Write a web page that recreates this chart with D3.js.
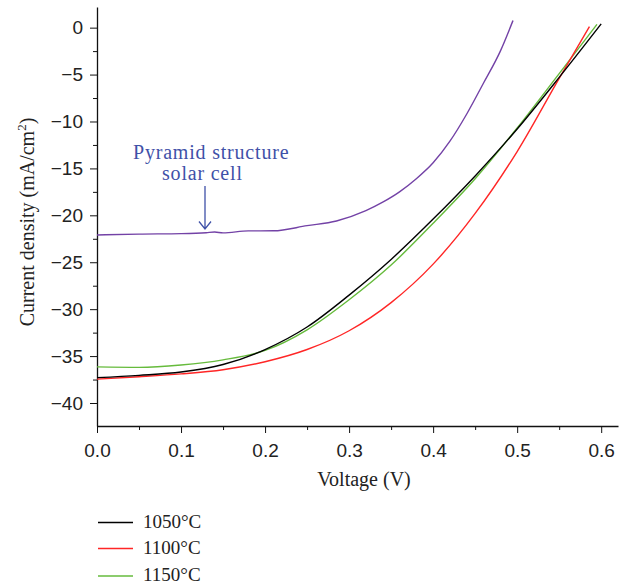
<!DOCTYPE html>
<html>
<head>
<meta charset="utf-8">
<script src="https://cdn.jsdelivr.net/npm/d3@7"></script>
<style>
  body { margin: 0; background: #fff; }
  svg { font-family: "Liberation Serif", "DejaVu Serif", serif; }
  .tick text { font-size: 19px; fill: #222; }
  .domain, .tick line { stroke: #111; }
</style>
</head>
<body>
<div id="chart"></div>
<script>
// J-V curves (V in volts, J in mA/cm2)
var v1050 = [0, 0.05, 0.1, 0.15, 0.2, 0.25, 0.3, 0.35, 0.4, 0.45, 0.5, 0.55, 0.6];
var j1050 = [-37.3, -37.05, -36.7, -35.9, -34.3, -31.9, -28.5, -24.7, -20.4, -15.8, -10.8, -5.3, 0.4];

var v1100 = [0, 0.05, 0.1, 0.15, 0.2, 0.25, 0.3, 0.35, 0.4, 0.45, 0.5, 0.55, 0.586];
var j1100 = [-37.45, -37.2, -36.9, -36.45, -35.6, -34.3, -32.3, -29.3, -25.2, -19.8, -13.2, -5.4, 0.1];

var v1150 = [0, 0.05, 0.1, 0.15, 0.2, 0.25, 0.3, 0.35, 0.4, 0.45, 0.5, 0.55, 0.595];
var j1150 = [-36.15, -36.2, -35.95, -35.4, -34.4, -32.2, -29.0, -25.3, -20.85, -16.1, -10.7, -4.9, 0.35];

var vPyramid = [0, 0.05, 0.1, 0.13, 0.14, 0.15, 0.18, 0.21, 0.25, 0.285, 0.32, 0.34, 0.36, 0.38, 0.4, 0.42, 0.44, 0.46, 0.48, 0.495];
var jPyramid = [-22.1, -22.0, -21.95, -21.85, -21.78, -21.87, -21.66, -21.65, -21.1, -20.6, -19.5, -18.6, -17.5, -16.1, -14.4, -12.1, -9.2, -5.9, -2.5, 0.75];

var xTicks = [0, 0.1, 0.2, 0.3, 0.4, 0.5, 0.6];
var yTicks = [0, -5, -10, -15, -20, -25, -30, -35, -40];
var legendLabels = ["1050\u00B0C", "1100\u00B0C", "1150\u00B0C"];

var svgWidth = 626;
var svgHeight = 588;

var svg = d3.select("#chart")
    .append("svg")
    .attr("width", svgWidth)
    .attr("height", svgHeight);

var xScale = d3.scaleLinear()
    .domain([0, 0.62])
    .range([97, 618]);

var yScale = d3.scaleLinear()
    .domain([-42.45, 2.2])
    .range([426, 7]);

// minor ticks first, then the labelled axes on top
svg.append("g")
    .attr("transform", "translate(0,426)")
    .call(d3.axisBottom(xScale).tickValues(d3.range(0.05, 0.62, 0.1)).tickSize(4).tickSizeOuter(0).tickFormat(""))
    .call(g => g.select(".domain").remove());

svg.append("g")
    .attr("transform", "translate(97,0)")
    .call(d3.axisLeft(yScale).tickValues(d3.range(-37.5, 1, 5)).tickSize(4).tickSizeOuter(0).tickFormat(""))
    .call(g => g.select(".domain").remove());

svg.append("g")
    .attr("transform", "translate(0,426)")
    .call(d3.axisBottom(xScale).tickValues(xTicks).tickFormat(d3.format(".1f")).tickSize(7).tickSizeOuter(0).tickPadding(11))
    .call(g => g.select(".domain").attr("stroke-width", 1.3));

svg.append("g")
    .attr("transform", "translate(97,0)")
    .call(d3.axisLeft(yScale).tickValues(yTicks).tickSize(7).tickSizeOuter(0).tickPadding(7))
    .call(g => g.select(".domain").attr("stroke-width", 1.3));

var line = d3.line()
    .x(d => xScale(d[0]))
    .y(d => yScale(d[1]))
    .curve(d3.curveMonotoneX);

var series = [
    { v: vPyramid, j: jPyramid, color: "#7342a6" },
    { v: v1150, j: j1150, color: "#66bb3c" },
    { v: v1100, j: j1100, color: "#ff2626" },
    { v: v1050, j: j1050, color: "#000000" }
];

series.forEach(s => {
    svg.append("path")
        .datum(d3.zip(s.v, s.j))
        .attr("fill", "none")
        .attr("stroke", s.color)
        .attr("stroke-width", 1.4)
        .attr("d", line);
});

// annotation
var annColor = "#3f51a8";
svg.append("text")
    .attr("x", 133)
    .attr("y", 159)
    .attr("fill", annColor)
    .attr("font-size", "20px")
    .attr("letter-spacing", "0.8px")
    .text("Pyramid structure");
svg.append("text")
    .attr("x", 162)
    .attr("y", 180)
    .attr("fill", annColor)
    .attr("font-size", "20px")
    .attr("letter-spacing", "0.8px")
    .text("solar cell");
svg.append("path")
    .attr("d", "M205,186V229M199,221.5L205,229L211,221.5")
    .attr("fill", "none")
    .attr("stroke", annColor)
    .attr("stroke-width", 1.3);

// axis titles
svg.append("text")
    .attr("transform", "translate(34,222) rotate(-90)")
    .attr("text-anchor", "middle")
    .attr("font-size", "20px")
    .attr("fill", "#222")
    .html("Current density (mA/cm<tspan dy='-8' font-size='13px'>2</tspan><tspan dy='8'>)</tspan>");

svg.append("text")
    .attr("x", 364)
    .attr("y", 486)
    .attr("text-anchor", "middle")
    .attr("font-size", "20px")
    .attr("fill", "#222")
    .text("Voltage (V)");

// legend
var legendColors = ["#000000", "#ff2626", "#66bb3c"];
var legendY = [527.5, 553.5, 581];
legendLabels.forEach((lab, i) => {
    svg.append("line")
        .attr("x1", 98).attr("x2", 133)
        .attr("y1", legendY[i] - 5).attr("y2", legendY[i] - 5)
        .attr("stroke", legendColors[i])
        .attr("stroke-width", 1.4);
    svg.append("text")
        .attr("x", 143)
        .attr("y", legendY[i])
        .attr("font-size", "19px")
        .attr("fill", "#222")
        .text(lab);
});
</script>
</body>
</html>
